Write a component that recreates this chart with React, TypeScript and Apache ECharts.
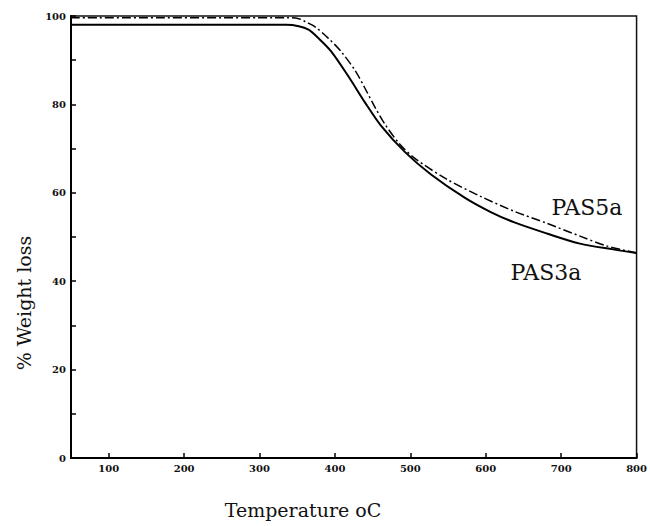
import React, { useEffect, useRef } from "react";
import * as echarts from "echarts";

// PAS3a (solid)
const pas3aTemp = [50, 335, 352, 365, 378, 395, 418, 440, 461, 493, 527, 572, 606, 638, 681, 725, 769, 800];
const pas3aWeight = [98.0, 98.0, 97.7, 96.9, 95.0, 92.0, 86.3, 80.4, 75.2, 69.2, 64.2, 58.9, 55.7, 53.3, 50.8, 48.5, 47.2, 46.4];

// PAS5a (dash-dot)
const pas5aTemp = [50, 338, 352, 361, 374, 391, 408, 427, 440, 453, 466, 485, 506, 549, 593, 638, 681, 725, 760, 800];
const pas5aWeight = [99.6, 99.6, 99.4, 98.7, 97.5, 95.0, 92.0, 87.6, 83.6, 79.4, 75.6, 71.2, 67.8, 63.0, 59.2, 55.8, 53.1, 50.2, 48.0, 46.4];

const xTicks = [100, 200, 300, 400, 500, 600, 700, 800];
const yTicks = [0, 20, 40, 60, 80, 100];

const FONT = "DejaVu Serif";

export default function App() {
  const ref = useRef<HTMLDivElement>(null);
  useEffect(() => {
    if (!ref.current) return;
    const chart = echarts.init(ref.current, null, { renderer: "svg" });
    const s3 = pas3aTemp.map((t, i) => [t, pas3aWeight[i]]);
    const s5 = pas5aTemp.map((t, i) => [t, pas5aWeight[i]]);
    chart.setOption({
      animation: false,
      backgroundColor: "#fff",
      grid: {
        left: 71,
        right: 10,
        top: 16,
        bottom: 68,
        show: true,
        borderColor: "#111",
        borderWidth: 1.5,
      },
      xAxis: {
        type: "value",
        min: 50,
        max: 800,
        splitLine: { show: false },
        axisLine: { show: true, onZero: false, lineStyle: { color: "#000", width: 2 } },
        axisTick: {
          show: true,
          inside: true,
          length: 5,
          customValues: xTicks,
          lineStyle: { color: "#000", width: 1.5 },
        },
        axisLabel: {
          customValues: xTicks,
          color: "#111",
          fontFamily: FONT,
          fontWeight: "bold",
          fontSize: 10,
          margin: 5,
        },
      },
      yAxis: {
        type: "value",
        min: 0,
        max: 100,
        interval: 10,
        splitLine: { show: false },
        axisLine: { show: true, onZero: false, lineStyle: { color: "#000", width: 2 } },
        axisTick: { show: true, inside: true, length: 5, lineStyle: { color: "#000", width: 1.5 } },
        axisLabel: {
          color: "#111",
          fontFamily: FONT,
          fontWeight: "bold",
          fontSize: 10,
          margin: 5,
          formatter: (v: number) => (yTicks.indexOf(v) >= 0 ? String(v) : ""),
        },
      },
      series: [
        {
          name: "PAS3a",
          type: "line",
          data: s3,
          showSymbol: false,
          smooth: 0.3,
          lineStyle: { color: "#000", width: 2, type: "solid" },
          z: 3,
        },
        {
          name: "PAS5a",
          type: "line",
          data: s5,
          showSymbol: false,
          smooth: 0.3,
          lineStyle: { color: "#000", width: 1.5, type: [9, 3, 2, 3] },
          z: 2,
        },
      ],
      graphic: [
        {
          type: "text",
          x: 587,
          y: 207,
          style: {
            text: "PAS5a",
            fontFamily: FONT,
            fontSize: 22,
            fill: "#111",
            textAlign: "center",
            textVerticalAlign: "middle",
          },
        },
        {
          type: "text",
          x: 546,
          y: 272,
          style: {
            text: "PAS3a",
            fontFamily: FONT,
            fontSize: 22,
            fill: "#111",
            textAlign: "center",
            textVerticalAlign: "middle",
          },
        },
        {
          type: "text",
          x: 303,
          y: 510,
          style: {
            text: "Temperature oC",
            fontFamily: FONT,
            fontSize: 19,
            fill: "#111",
            textAlign: "center",
            textVerticalAlign: "middle",
          },
        },
        {
          type: "text",
          x: 24,
          y: 303,
          rotation: Math.PI / 2,
          style: {
            text: "% Weight loss",
            fontFamily: FONT,
            fontSize: 19,
            fill: "#111",
            textAlign: "center",
            textVerticalAlign: "middle",
          },
        },
      ],
    });
    return () => chart.dispose();
  }, []);
  return <div ref={ref} style={{ width: 650, height: 526, position: "absolute", left: 0, top: 0 }} />;
}
